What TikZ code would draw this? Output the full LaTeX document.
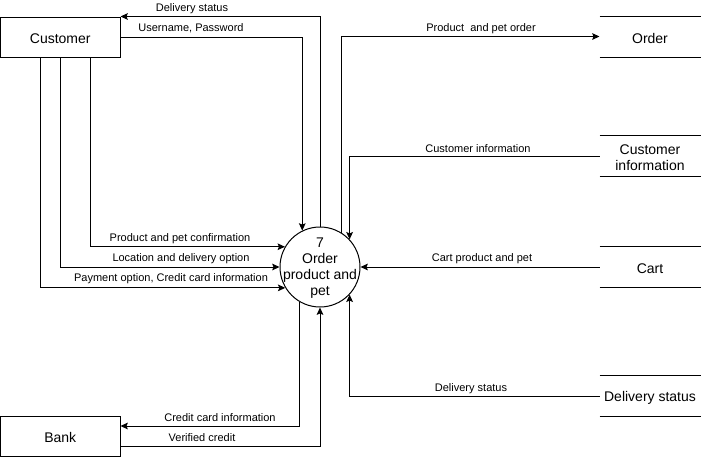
\documentclass[tikz,border=0pt]{standalone}
\usepackage{fontspec}
\setmainfont{Liberation Sans}
\usetikzlibrary{arrows.meta,calc}
\begin{document}
\begin{tikzpicture}[x=0.75pt,y=-0.75pt,
  every path/.style={line width=0.75pt},
  ent/.style={draw,line width=0.75pt,minimum width=119.5*0.75pt,minimum height=40*0.75pt,inner sep=0pt,font=\fontsize{10.5}{12}\selectfont},
  store/.style={minimum width=100*0.75pt,minimum height=40*0.75pt,inner sep=0pt,font=\fontsize{10.5}{12}\selectfont},
  stext/.style={inner sep=0pt,align=center,yshift=-1.2pt,font=\fontsize{10.5}{12}\selectfont},
  proc/.style={draw,circle,line width=0.75pt,minimum size=80*0.75pt,inner sep=0pt},
  proctext/.style={inner sep=0pt,align=center,yshift=-1.2pt,font=\fontsize{10.5}{12}\selectfont},
  lbl/.style={inner sep=0pt,yshift=-1.1pt,font=\fontsize{8.25}{10}\selectfont},
  arr/.style={-{Stealth[length=5.5pt,width=5pt,inset=1pt]},line width=0.75pt}]
\useasboundingbox (0,0) rectangle (702,457);
% entities
\node[ent] (cust) at (60.25,37) {};
\node[stext] at (cust) {Customer};
\node[ent] (bank) at (60.25,436) {};
\node[stext] at (bank) {Bank};
% process
\node[proc] (c) at (320,267) {};
\node[proctext] (ct) at (c) {7\\Order\\product and\\pet};
% stores
\node[store] (order) at (650,36.5) {};
\node[store] (ci) at (650,156) {};
\node[store] (cart) at (650,267) {};
\node[store] (ds) at (650,396) {};
\node[stext] at (order) {Order};
\node[stext] at (ci) {Customer\\information};
\node[stext] at (cart) {Cart};
\node[stext] at (ds) {Delivery status};
\foreach \s in {order,ci,cart,ds}{
  \draw (\s.north west) -- (\s.north east);
  \draw (\s.south west) -- (\s.south east);
}
% connectors
\draw[arr] (c.north) |- (cust.north east);
\draw[arr] (cust.east) -| (c.116.7);
\draw[arr] (c.58.3) |- (order.west);
\draw[arr] (ci.west) -| (c.43.5);
\draw[arr] (cart.west) -- (c.east);
\draw[arr] (ds.west) -| (c.-43.5);
\draw[arr] (c.-120) |- ($(bank.east)+(0,-10)$);
\draw[arr] ($(bank.east)+(0,10)$) -| (c.south);
\draw[arr] ($(cust.south west)+(90,0)$) |- (c.150);
\draw[arr] ($(cust.south west)+(60,0)$) |- (c.west);
\draw[arr] ($(cust.south west)+(40,0)$) |- (c.211.7);
% labels
\node[lbl] at (192,7) {Delivery status};
\node[lbl] at (191,27) {Username, Password};
\node[lbl] at (481,27) {Product\ \ and pet order};
\node[lbl] at (478,147) {Customer information};
\node[lbl] at (482,257) {Cart product and pet};
\node[lbl] at (471,387) {Delivery status};
\node[lbl] at (220,416) {Credit card information};
\node[lbl] at (202,436) {Verified credit};
\node[lbl] at (180,237) {Product and pet confirmation};
\node[lbl] at (181,257) {Location and delivery option};
\node[lbl] at (171,277) {Payment option, Credit card information};
\end{tikzpicture}
\end{document}
